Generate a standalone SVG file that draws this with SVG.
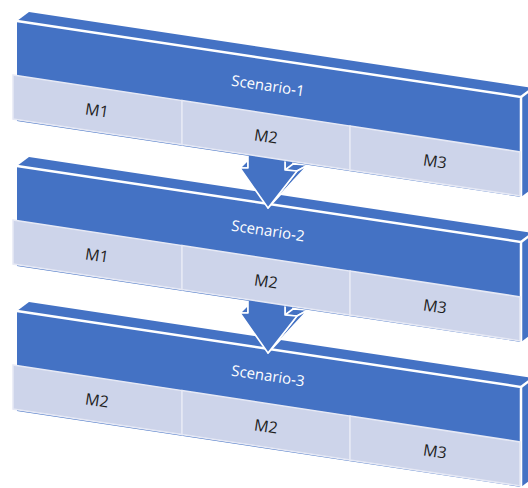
<svg xmlns="http://www.w3.org/2000/svg" xmlns:xlink="http://www.w3.org/1999/xlink" width="528" height="488" viewBox="0 0 528 488">
<style>
.b{fill:#4472C4}
.edge{stroke:#FFFFFF;stroke-width:2.5;fill:none}
.cell{fill:#CDD4EA;stroke:#E6E9F5;stroke-width:1.5}
.arr{fill:#4472C4;stroke:#FFFFFF;stroke-width:1.6;stroke-linejoin:round}
.t{font-family:"Open Sans","Noto Sans",sans-serif;text-anchor:middle}
.sc{fill:#FFFFFF;font-size:15px}
.m{fill:#1E1E1E;font-size:16px}
</style>
<defs>
<g id="slab">
<path class="b" d="M17,21 L521,97 L533,88 L29,12 Z"/>
<path class="b" d="M17,21 L521,97 L521,197 L17,121 Z"/>
<path class="b" d="M521,97 L533,88 L533,188 L521,197 Z"/>
<path class="edge" d="M17,21 L521,97 L521,197"/>
<path class="edge" d="M521,97 L533,88" stroke-width="1.5"/>
</g>
<g id="cells">
<path class="cell" d="M13,75 L182,100.6 L182,144.6 L13,119 Z"/>
<path class="cell" d="M182,100.6 L350,126.1 L350,170.1 L182,144.6 Z"/>
<path class="cell" d="M350,126.1 L520,151.9 L520,195.9 L350,170.1 Z"/>
</g>
<g id="arrow">
<path class="arr" d="M240,168 L248,168 L248,160 Z"/>
<path class="arr" d="M285,150 L293,146 L293,165 L285,170 Z"/>
<path class="arr" d="M285,170 L297,171 L308,165 L293,164 Z"/>
<path class="arr" d="M297,171 L308,165 L268,208 Z"/>
<path class="arr" d="M248,150 L285,150 L285,170 L297,171 L268,208 L240,168 L248,168 Z"/>
</g>
</defs>

<g id="scenario-3" transform="translate(0,290)">
<use xlink:href="#slab"/>
<use xlink:href="#cells"/>
<text class="t sc" x="268" y="91" transform="rotate(8.6 268 86)">Scenario-3</text>
<text class="t m" x="97" y="116" transform="rotate(8.6 97 111)">M2</text>
<text class="t m" x="266" y="142" transform="rotate(8.6 266 137)">M2</text>
<text class="t m" x="435" y="167" transform="rotate(8.6 435 162)">M3</text>
</g>

<g id="connectors">
<g id="arrow-2-3" transform="translate(0,145)"><use xlink:href="#arrow"/></g>
</g>

<g id="scenario-2" transform="translate(0,145)">
<use xlink:href="#slab"/>
<use xlink:href="#cells"/>
<text class="t sc" x="268" y="91" transform="rotate(8.6 268 86)">Scenario-2</text>
<text class="t m" x="97" y="116" transform="rotate(8.6 97 111)">M1</text>
<text class="t m" x="266" y="142" transform="rotate(8.6 266 137)">M2</text>
<text class="t m" x="435" y="167" transform="rotate(8.6 435 162)">M3</text>
</g>

<g id="connectors-1">
<g id="arrow-1-2"><use xlink:href="#arrow"/></g>
</g>

<g id="scenario-1">
<use xlink:href="#slab"/>
<use xlink:href="#cells"/>
<text class="t sc" x="268" y="91" transform="rotate(8.6 268 86)">Scenario-1</text>
<text class="t m" x="97" y="116" transform="rotate(8.6 97 111)">M1</text>
<text class="t m" x="266" y="142" transform="rotate(8.6 266 137)">M2</text>
<text class="t m" x="435" y="167" transform="rotate(8.6 435 162)">M3</text>
</g>
</svg>
